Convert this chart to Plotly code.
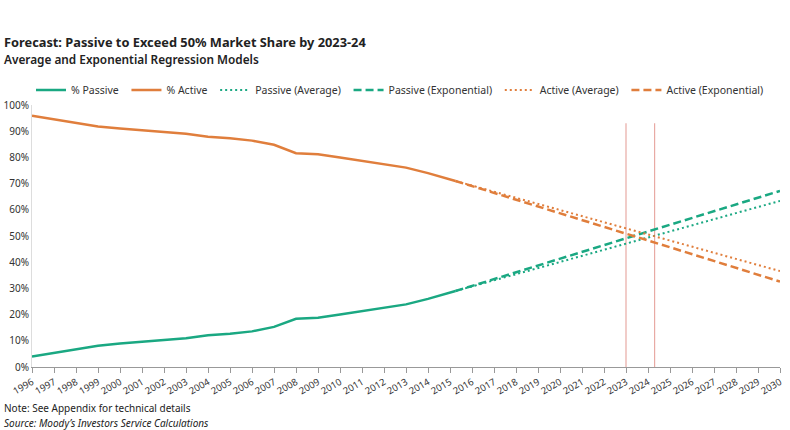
import plotly.graph_objects as go

# ---- data ----
years_actual = [1996, 1997, 1998, 1999, 2000, 2001, 2002, 2003, 2004, 2005, 2006,
                2007, 2008, 2009, 2010, 2011, 2012, 2013, 2014, 2015, 2015.25]
pct_passive = [4.0, 5.3, 6.8, 8.1, 9.0, 9.7, 10.4, 11.0, 12.1, 12.7, 13.6,
               15.3, 18.4, 18.8, 20.0, 21.3, 22.5, 23.9, 26.0, 28.2, 29.0]
pct_active = [95.9, 94.6, 93.1, 91.8, 91.0, 90.4, 89.6, 89.0, 87.9, 87.3, 86.4,
              84.8, 81.6, 81.2, 80.0, 78.7, 77.5, 76.1, 74.0, 71.8, 71.0]

years_forecast = [2015.25, 2020, 2025, 2030]
passive_average = [29.0, 40.0, 51.6, 63.4]
passive_exponential = [29.0, 41.2, 54.3, 67.2]
active_average = [71.0, 60.0, 48.4, 36.6]
active_exponential = [71.0, 58.8, 45.7, 32.6]

crossing_years = [2023.0, 2024.3]
crossing_top = 93

x_ticks = list(range(1996, 2031))
y_ticks = list(range(0, 101, 10))
y_tick_labels = [f"{v}%" for v in y_ticks]

series_names = ["% Passive", "% Active", "Passive (Average)", "Passive (Exponential)",
                "Active (Average)", "Active (Exponential)"]

title_text = "Forecast: Passive to Exceed 50% Market Share by 2023-24"
subtitle_text = "Average and Exponential Regression Models"
note_text = "Note: See Appendix for technical details"
source_text = "Source: Moody’s Investors Service Calculations"

GREEN = "#1aa882"
ORANGE = "#e07e3c"
FONT = "Noto Sans"
PAD = "\u00a0"

fig = go.Figure()
fig.add_trace(go.Scatter(x=years_actual, y=pct_passive, mode="lines", name=series_names[0] + PAD,
                         line=dict(color=GREEN, width=2.5)))
fig.add_trace(go.Scatter(x=years_actual, y=pct_active, mode="lines", name=series_names[1] + PAD,
                         line=dict(color=ORANGE, width=2.5)))
fig.add_trace(go.Scatter(x=years_forecast, y=passive_average, mode="lines", name=series_names[2] + PAD,
                         line=dict(color=GREEN, width=2, dash="2px,3px")))
fig.add_trace(go.Scatter(x=years_forecast, y=passive_exponential, mode="lines", name=series_names[3] + PAD,
                         line=dict(color=GREEN, width=2.5, dash="8px,4px")))
fig.add_trace(go.Scatter(x=years_forecast, y=active_average, mode="lines", name=series_names[4] + PAD,
                         line=dict(color=ORANGE, width=2, dash="2px,3px")))
fig.add_trace(go.Scatter(x=years_forecast, y=active_exponential, mode="lines", name=series_names[5],
                         line=dict(color=ORANGE, width=2.5, dash="8px,4px")))

for cx in crossing_years:
    fig.add_shape(type="line", xref="x", yref="y", x0=cx, x1=cx, y0=0, y1=crossing_top,
                  line=dict(color="#e8aaa4", width=1.2), layer="below")

L, R, T, B = 32, 10, 105, 63
W, H = 790, 430
pw = W - L - R
ph = H - T - B

def px_x(px):
    return (px - L) / pw

def px_y(py):
    return (H - B - py) / ph

anns = [
    dict(text=title_text, x=px_x(2), y=px_y(42), xanchor="left", yanchor="middle",
         font=dict(size=12.8, color="#222", family=FONT, weight="bold")),
    dict(text=subtitle_text, x=px_x(2), y=px_y(59), xanchor="left", yanchor="middle",
         font=dict(size=11.8, color="#222", family=FONT, weight=600)),
    dict(text=note_text, x=px_x(2), y=px_y(408), xanchor="left", yanchor="middle",
         font=dict(size=10, color="#222", family=FONT)),
    dict(text="<i>" + source_text + "</i>", x=px_x(2), y=px_y(423), xanchor="left", yanchor="middle",
         font=dict(size=10, color="#222", family=FONT)),
]
for a in anns:
    a.update(xref="paper", yref="paper", showarrow=False)

fig.update_layout(
    width=W, height=H,
    margin=dict(l=L, r=R, t=T, b=B, autoexpand=False),
    plot_bgcolor="white", paper_bgcolor="white",
    font=dict(family=FONT, size=10, color="#333"),
    showlegend=True,
    legend=dict(orientation="h", x=px_x(31), y=px_y(90), xanchor="left", yanchor="middle",
                font=dict(size=10.5, color="#333", family=FONT), itemwidth=30,
                bgcolor="rgba(0,0,0,0)"),
    annotations=anns,
)
fig.update_xaxes(range=[1996, 2030], tickvals=x_ticks, ticktext=[str(v) for v in x_ticks],
                 tickangle=-30, ticks="outside", ticklen=5, tickcolor="#999",
                 showline=True, linecolor="#999", linewidth=1, showgrid=False, zeroline=False,
                 tickfont=dict(size=9.5, color="#333"), automargin=False)
fig.update_yaxes(range=[0, 100], tickvals=y_ticks, ticktext=y_tick_labels,
                 showline=True, linecolor="#ddd", linewidth=1, showgrid=False, zeroline=False,
                 ticks="", tickfont=dict(size=10, color="#333"), automargin=False)

fig.write_html("out.html", config={"displayModeBar": False},
               post_script="document.body.style.margin='0';document.body.style.overflow='hidden';")
